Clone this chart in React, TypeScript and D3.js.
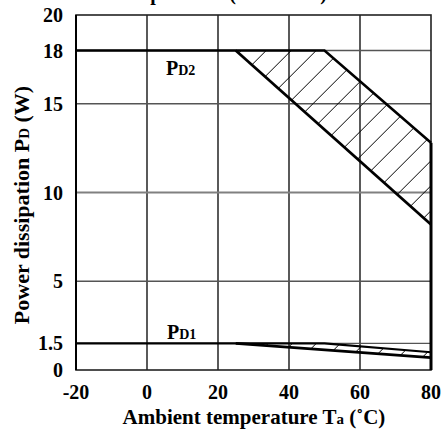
import React from "react";
import * as d3 from "d3";

const xTicks = [-20, 0, 20, 40, 60, 80];
const yTicks = [0, 1.5, 5, 10, 15, 18, 20];
const gridY = [5, 10, 15, 18, 1.5];
const pd2Upper: [number, number][] = [[-20, 18], [50, 18], [80, 12.8]];
const pd2Lower: [number, number][] = [[25, 18], [80, 8.2]];
const pd1Upper: [number, number][] = [[-20, 1.5], [50, 1.5], [80, 1.0]];
const pd1Lower: [number, number][] = [[25, 1.5], [80, 0.7]];
const titleText = "Temperature (Tc = 25°C)";

const W = 441, H = 430;
const FONT = "'Liberation Serif', 'Times New Roman', Times, serif";

export default function App() {
  const x = d3.scaleLinear().domain([-20, 80]).range([76, 431]);
  const y = d3.scaleLinear().domain([0, 20]).range([370, 15]);
  const line = d3.line<[number, number]>().x(d => x(d[0])).y(d => y(d[1]));

  const band = (up: [number, number][], lo: [number, number][]) => {
    const start = lo[0][0];
    const upPts = up.filter(p => p[0] >= start);
    const pts: [number, number][] = [lo[0], ...upPts, ...lo.slice(1).reverse()];
    return line(pts) + "Z";
  };
  const band2 = band(pd2Upper, pd2Lower);
  const band1 = band(pd1Upper, pd1Lower);

  const hatch = (phase: number, step: number) => {
    const lines: { c: number }[] = [];
    const x0 = 76, x1 = 431, y0 = 15, y1 = 370;
    for (let c = phase; c < x1 + y1 + step; c += step) {
      if (c > x0 + y0 - step) lines.push({ c });
    }
    return lines.map((l, i) => (
      <line key={i} x1={l.c - y0} y1={y0} x2={l.c - y1} y2={y1} stroke="#000" strokeWidth={1} />
    ));
  };

  return (
    <svg width={W} height={H} style={{ position: "absolute", left: 0, top: 0, background: "#fff" }} fontFamily={FONT} fontWeight="bold">
      <defs>
        <clipPath id="c2"><path d={band2} /></clipPath>
        <clipPath id="c1"><path d={band1} /></clipPath>
      </defs>
      <rect x={0} y={0} width={W} height={H} fill="#fff" />
      <text x={220} y={0} textAnchor="middle" fontSize={20}>{titleText}</text>

      {/* grid */}
      {xTicks.slice(1, -1).map(v => (
        <line key={"gx" + v} x1={x(v)} x2={x(v)} y1={y(20)} y2={y(0)} stroke="#000" strokeWidth={1.3} />
      ))}
      {gridY.map(v => (
        <line key={"gy" + v} x1={x(-20)} x2={x(80)} y1={y(v)} y2={y(v)} stroke={v === 10 ? "#808080" : "#555"} strokeWidth={v === 10 ? 2 : 1.4} />
      ))}
      {/* frame */}
      <rect x={x(-20)} y={y(20)} width={x(80) - x(-20)} height={y(0) - y(20)} fill="none" stroke="#222" strokeWidth={1.6} />
      <line x1={x(-20)} x2={x(-20)} y1={y(20)} y2={y(0)} stroke="#000" strokeWidth={2} />

      {/* hatching */}
      <g clipPath="url(#c2)">{hatch(16.7, 25)}</g>
      <g clipPath="url(#c1)">{hatch(11.7, 24)}</g>

      {/* curves */}
      <path d={line(pd2Upper) || ""} fill="none" stroke="#000" strokeWidth={2.6} strokeLinejoin="miter" />
      <path d={line(pd2Lower) || ""} fill="none" stroke="#000" strokeWidth={2.8} />
      <path d={line(pd1Upper) || ""} fill="none" stroke="#000" strokeWidth={2.2} />
      <path d={line(pd1Lower) || ""} fill="none" stroke="#000" strokeWidth={2.8} />
      <line x1={x(80)} x2={x(80)} y1={y(pd2Upper[2][1])} y2={y(0)} stroke="#000" strokeWidth={3} />

      {/* labels */}
      <text x={166} y={75} fontSize={20}>P<tspan fontSize={14}>D2</tspan></text>
      <text x={167} y={339} fontSize={20}>P<tspan fontSize={14}>D1</tspan></text>

      {/* tick labels */}
      {yTicks.map(v => (
        <text key={"yt" + v} x={63} y={y(v)} dy="0.35em" textAnchor="end" fontSize={20}>{String(v)}</text>
      ))}
      {xTicks.map(v => (
        <text key={"xt" + v} x={x(v)} y={399} textAnchor="middle" fontSize={20}>{String(v)}</text>
      ))}

      <text x={254} y={424} textAnchor="middle" fontSize={21}>
        Ambient temperature T<tspan fontSize={15}>a</tspan> (˚C)
      </text>
      <text transform="translate(29,205) rotate(-90)" textAnchor="middle" fontSize={22}>
        Power dissipation P<tspan fontSize={15}>D</tspan> (W)
      </text>
    </svg>
  );
}
